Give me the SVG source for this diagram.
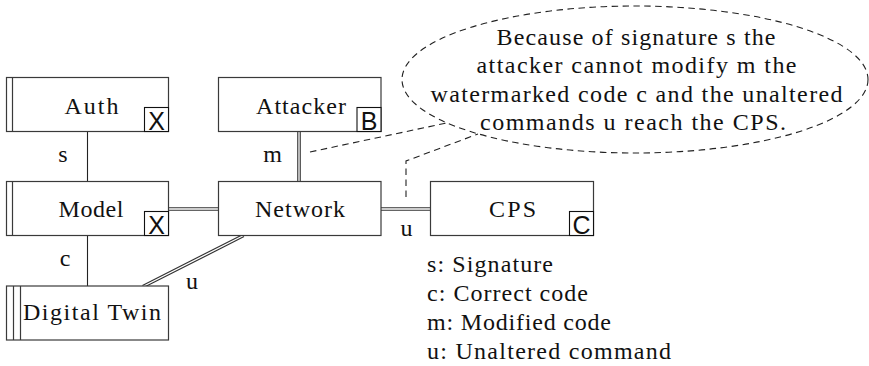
<svg xmlns="http://www.w3.org/2000/svg" width="869" height="366" viewBox="0 0 869 366">
<style>
.box{fill:#fff;stroke:#3a3a3a;stroke-width:1.2}
.tag{fill:#fff;stroke:#111;stroke-width:1.1}
.ln{fill:none;stroke:#222;stroke-width:1.1}
.dO{fill:none;stroke:#333;stroke-width:3.6}
.dI{fill:none;stroke:#fff;stroke-width:1.3}
.dash{fill:none;stroke:#222;stroke-width:1.1;stroke-dasharray:6.5 4.5}
</style>
<defs>
<path id="dbl" d="M299,131.5 V181.5 M168.5,209 H218.5 M381,209 H430.5 M143,286.5 L243.5,235.5"/>
</defs>
<rect width="869" height="366" fill="#fff"/>
<g id="connectors">
<line class="ln" x1="87.5" y1="131.5" x2="87.5" y2="181.5"/>
<line class="ln" x1="87.5" y1="235.5" x2="87.5" y2="286"/>
<use href="#dbl" class="dO"/>
<use href="#dbl" class="dI"/>
<path class="dash" d="M310,152 L446.5,123"/>
<path class="dash" d="M406,197 V161 L478,134"/>
<text x="63" y="162" text-anchor="middle" style="font-family:'Liberation Serif',serif !important;font-size:24px;fill:#111">s</text>
<text x="272.5" y="162" text-anchor="middle" style="font-family:'Liberation Serif',serif !important;font-size:24px;fill:#111">m</text>
<text x="65" y="266" text-anchor="middle" style="font-family:'Liberation Serif',serif !important;font-size:24px;fill:#111">c</text>
<text x="192" y="289" text-anchor="middle" style="font-family:'Liberation Serif',serif !important;font-size:24px;fill:#111">u</text>
<text x="406.5" y="236" text-anchor="middle" style="font-family:'Liberation Serif',serif !important;font-size:24px;fill:#111">u</text>
</g>
<g id="auth">
<rect class="box" x="6.5" y="77.5" width="162" height="54"/>
<line class="box" x1="12.5" y1="77.5" x2="12.5" y2="131.5"/>
<text x="91.5" y="113.5" textLength="54" text-anchor="middle" style="font-family:'Liberation Serif',serif !important;font-size:24px;fill:#111">Auth</text>
<rect class="tag" x="144.5" y="107.5" width="24" height="24"/>
<text x="156.5" y="129.5" text-anchor="middle" style="font-family:'Liberation Sans',sans-serif !important;font-size:25px;fill:#111">X</text>
</g>
<g id="attacker">
<rect class="box" x="218.5" y="77.5" width="162.5" height="54"/>
<text x="301" y="113.5" textLength="90" text-anchor="middle" style="font-family:'Liberation Serif',serif !important;font-size:24px;fill:#111">Attacker</text>
<rect class="tag" x="357" y="107.5" width="24" height="24"/>
<text x="369" y="129.5" text-anchor="middle" style="font-family:'Liberation Sans',sans-serif !important;font-size:25px;fill:#111">B</text>
</g>
<g id="model">
<rect class="box" x="6.5" y="181.5" width="162" height="54"/>
<line class="box" x1="12.5" y1="181.5" x2="12.5" y2="235.5"/>
<text x="91" y="217" textLength="65" text-anchor="middle" style="font-family:'Liberation Serif',serif !important;font-size:24px;fill:#111">Model</text>
<rect class="tag" x="144.5" y="211.5" width="24" height="24"/>
<text x="156.5" y="233.5" text-anchor="middle" style="font-family:'Liberation Sans',sans-serif !important;font-size:25px;fill:#111">X</text>
</g>
<g id="network">
<rect class="box" x="218.5" y="181.5" width="162.5" height="54"/>
<text x="300" y="217" textLength="90" text-anchor="middle" style="font-family:'Liberation Serif',serif !important;font-size:24px;fill:#111">Network</text>
</g>
<g id="cps">
<rect class="box" x="430.5" y="181.5" width="163" height="54"/>
<text x="512.5" y="216.5" textLength="47" text-anchor="middle" style="font-family:'Liberation Serif',serif !important;font-size:24px;fill:#111">CPS</text>
<rect class="tag" x="569.5" y="211.5" width="24" height="24"/>
<text x="581.5" y="233.5" text-anchor="middle" style="font-family:'Liberation Sans',sans-serif !important;font-size:25px;fill:#111">C</text>
</g>
<g id="digital-twin">
<rect class="box" x="6.5" y="286" width="162" height="54"/>
<line class="box" x1="13.5" y1="286" x2="13.5" y2="340"/>
<line class="box" x1="20.5" y1="286" x2="20.5" y2="340"/>
<text x="92" y="319.5" textLength="138" text-anchor="middle" style="font-family:'Liberation Serif',serif !important;font-size:24px;fill:#111">Digital Twin</text>
</g>
<g id="note">
<ellipse class="dash" cx="635" cy="79.5" rx="233" ry="73.5"/>
<text x="636" y="45" textLength="279" text-anchor="middle" style="font-family:'Liberation Serif',serif !important;font-size:24px;fill:#111">Because of signature s the</text>
<text x="636.5" y="73" textLength="320" text-anchor="middle" style="font-family:'Liberation Serif',serif !important;font-size:24px;fill:#111">attacker cannot modify m the</text>
<text x="636.5" y="101.5" textLength="412" text-anchor="middle" style="font-family:'Liberation Serif',serif !important;font-size:24px;fill:#111">watermarked code c and the unaltered</text>
<text x="633" y="130" textLength="306" text-anchor="middle" style="font-family:'Liberation Serif',serif !important;font-size:24px;fill:#111">commands u reach the CPS.</text>
</g>
<g id="legend">
<text x="427" y="272" textLength="126" style="font-family:'Liberation Serif',serif !important;font-size:24px;fill:#111">s: Signature</text>
<text x="427" y="301" textLength="161" style="font-family:'Liberation Serif',serif !important;font-size:24px;fill:#111">c: Correct code</text>
<text x="427" y="330" textLength="184" style="font-family:'Liberation Serif',serif !important;font-size:24px;fill:#111">m: Modified code</text>
<text x="427" y="359" textLength="244" style="font-family:'Liberation Serif',serif !important;font-size:24px;fill:#111">u: Unaltered command</text>
</g>
</svg>
